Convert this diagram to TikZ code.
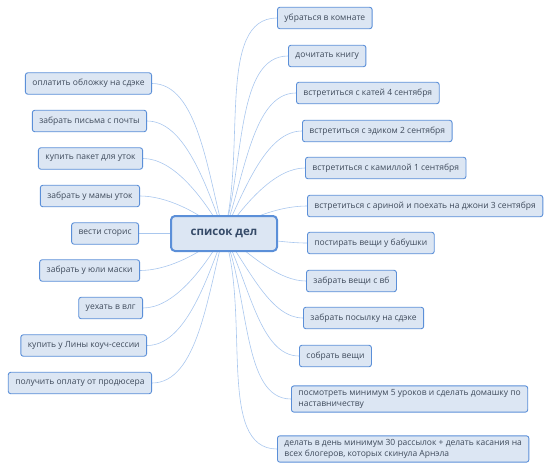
\documentclass[tikz,border=0pt]{standalone}
\usepackage{fontspec}
\setmainfont{Open Sans}
\usetikzlibrary{backgrounds}
\definecolor{TaskFill}{HTML}{DCE6F3}
\definecolor{TaskLine}{HTML}{5B8FD8}
\definecolor{TaskText}{HTML}{3E4A5B}
\definecolor{HubText}{HTML}{354A68}
\definecolor{LinkBlue}{HTML}{A9C7EE}

\begin{document}
\begin{tikzpicture}[x=1pt, y=-1pt,
  task/.style={draw=TaskLine, line width=0.9pt, fill=TaskFill, text=TaskText, rounded corners=2.5pt,
    font=\fontsize{8.5}{11.5}\selectfont, inner xsep=7pt, minimum height=21.5pt},
  hub/.style={draw=TaskLine, line width=2pt, fill=TaskFill, text=HubText, rounded corners=4pt,
    font=\fontsize{11.5}{13}\selectfont\bfseries, minimum width=106pt, minimum height=35pt},
  link/.style={draw=LinkBlue, line width=0.6pt, in looseness=0.7}]
  \useasboundingbox (0,0) rectangle (551,474);

  \node[hub] (list) at (224,233.5) {список дел};

  % left branch
  \node[task, anchor=east] (pay) at (152,83.5) {оплатить обложку на сдэке};
  \node[task, anchor=east] (mail) at (147,121) {забрать письма с почты};
  \node[task, anchor=east] (bag) at (143,158.5) {купить пакет для уток};
  \node[task, anchor=east] (ducks) at (140,196) {забрать у мамы уток};
  \node[task, anchor=east] (stories) at (139,233.5) {вести сторис};
  \node[task, anchor=east] (masks) at (140,270.5) {забрать у юли маски};
  \node[task, anchor=east] (leave) at (143,308) {уехать в влг};
  \node[task, anchor=east] (coach) at (147,345.5) {купить у Лины коуч-сессии};
  \node[task, anchor=east] (fee) at (152,383) {получить оплату от продюсера};

  % right branch
  \node[task, anchor=west] (room) at (277,18) {убраться в комнате};
  \node[task, anchor=west] (book) at (288,56) {дочитать книгу};
  \node[task, anchor=west] (katya) at (296,93) {встретиться с катей 4 сентября};
  \node[task, anchor=west] (edik) at (302,131) {встретиться с эдиком 2 сентября};
  \node[task, anchor=west] (kamilla) at (305,168) {встретиться с камиллой 1 сентября};
  \node[task, anchor=west] (arina) at (307,206) {встретиться с ариной и поехать на джони 3 сентября};
  \node[task, anchor=west] (wash) at (307,243) {постирать вещи у бабушки};
  \node[task, anchor=west] (wb) at (306,281) {забрать вещи с вб};
  \node[task, anchor=west] (parcel) at (303,318) {забрать посылку на сдэке};
  \node[task, anchor=west] (pack) at (299,356) {собрать вещи};
  \node[task, anchor=west, align=left] (lessons) at (291,399)
    {посмотреть минимум 5 уроков и сделать домашку по\\наставничеству};
  \node[task, anchor=west, align=left] (mailing) at (277,449)
    {делать в день минимум 30 рассылок + делать касания на\\всех блогеров, которых скинула Арнэла};

  \begin{pgfonlayer}{background}
    \draw[link] (list.center) to[out=105, in=0] (pay.east);
    \draw[link] (list.center) to[out=110, in=0] (mail.east);
    \draw[link] (list.center) to[out=120, in=0] (bag.east);
    \draw[link] (list.center) to[out=140, in=0] (ducks.east);
    \draw[link] (list.center) to[out=180, in=0] (stories.east);
    \draw[link] (list.center) to[out=220, in=0] (masks.east);
    \draw[link] (list.center) to[out=240, in=0] (leave.east);
    \draw[link] (list.center) to[out=250, in=0] (coach.east);
    \draw[link] (list.center) to[out=255, in=0] (fee.east);

    \draw[link] (list.center) to[out=75, in=180] (room.west);
    \draw[link] (list.center) to[out=74, in=180] (book.west);
    \draw[link] (list.center) to[out=70, in=180] (katya.west);
    \draw[link] (list.center) to[out=65, in=180] (edik.west);
    \draw[link] (list.center) to[out=55, in=180] (kamilla.west);
    \draw[link] (list.center) to[out=32, in=180] (arina.west);
    \draw[link] (list.center) to[out=-8, in=180] (wash.west);
    \draw[link] (list.center) to[out=-40, in=180] (wb.west);
    \draw[link] (list.center) to[out=-55, in=180] (parcel.west);
    \draw[link] (list.center) to[out=-63, in=180] (pack.west);
    \draw[link] (list.center) to[out=-68, in=180] (lessons.west);
    \draw[link] (list.center) to[out=-72, in=180] (mailing.west);
  \end{pgfonlayer}
\end{tikzpicture}
\end{document}
